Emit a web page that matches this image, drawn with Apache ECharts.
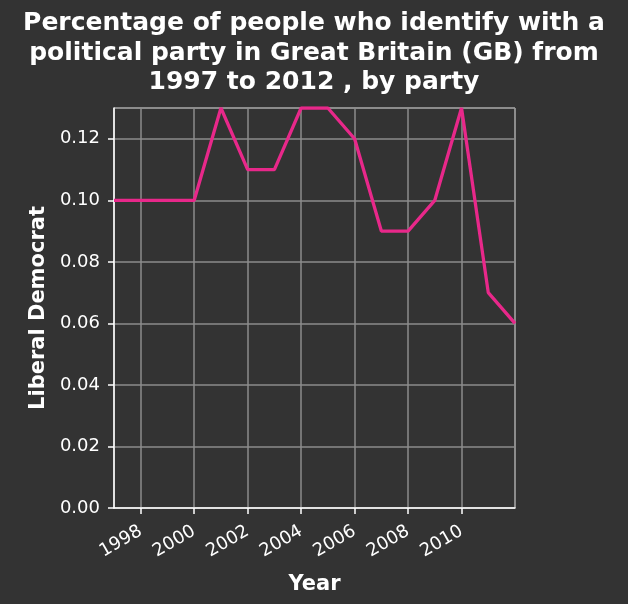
<!DOCTYPE html>
<html>
<head>
<meta charset="utf-8">
<script src="https://cdn.jsdelivr.net/npm/echarts@6/dist/echarts.min.js"></script>
<style>
  html, body { margin: 0; padding: 0; background: #333333; }
  #chart { width: 628px; height: 604px; }
</style>
</head>
<body>
<div id="chart"></div>
<script>
const years = ['1997', '1998', '1999', '2000', '2001', '2002', '2003', '2004',
  '2005', '2006', '2007', '2008', '2009', '2010', '2011', '2012']
const libDem = [0.10, 0.10, 0.10, 0.10, 0.13, 0.11, 0.11, 0.13,
  0.13, 0.12, 0.09, 0.09, 0.10, 0.13, 0.07, 0.06]

const font = 'DejaVu Sans'
// only even years get a label, tick and grid line (2012 sits on the frame)
const evenYear = (index, value) => Number(value) % 2 === 0 && value !== '2012'

const myChart = echarts.init(document.getElementById('chart'))
const option = {
  backgroundColor: '#333333',
  animation: false,
  title: {
    text: 'Percentage of people who identify with a\npolitical party in Great Britain (GB) from\n1997 to 2012 , by party',
    left: 'center',
    top: 4,
    textStyle: {
      color: '#ffffff',
      fontFamily: font,
      fontWeight: 'bold',
      fontSize: 25,
      lineHeight: 29.5,
    },
  },
  grid: {
    left: 114,
    right: 113,
    top: 108,
    bottom: 96,
    show: true,
    borderColor: '#e6e6e6',
    borderWidth: 1,
  },
  xAxis: {
    type: 'category',
    data: years,
    boundaryGap: false,
    name: 'Year',
    nameLocation: 'middle',
    nameGap: 66,
    nameTextStyle: { color: '#ffffff', fontFamily: font, fontWeight: 'bold', fontSize: 21 },
    axisLine: { lineStyle: { color: '#ffffff', width: 1.5 } },
    axisTick: { show: true, interval: evenYear, length: 6, lineStyle: { color: '#ffffff', width: 1.5 } },
    axisLabel: { interval: evenYear, rotate: 30, margin: 22, color: '#ffffff', fontFamily: font, fontSize: 18 },
    splitLine: { show: true, interval: evenYear, lineStyle: { color: '#8c8c8c', width: 1.5 } },
  },
  yAxis: {
    type: 'value',
    min: 0,
    max: 0.13,
    interval: 0.02,
    name: 'Liberal Democrat',
    nameLocation: 'middle',
    nameGap: 62,
    nameTextStyle: { color: '#ffffff', fontFamily: font, fontWeight: 'bold', fontSize: 21 },
    axisLine: { show: true, lineStyle: { color: '#ffffff', width: 1.5 } },
    axisTick: { show: true, length: 6, lineStyle: { color: '#ffffff', width: 1.5 } },
    axisLabel: {
      color: '#ffffff',
      fontFamily: font,
      fontSize: 18,
      margin: 14,
      showMaxLabel: false,
      formatter: (v) => v.toFixed(2),
    },
    splitLine: { show: true, lineStyle: { color: '#8c8c8c', width: 1.5 } },
  },
  series: [
    {
      name: 'Liberal Democrat',
      type: 'line',
      data: libDem,
      symbol: 'none',
      lineStyle: { color: '#e8288a', width: 3.3 },
    },
  ],
}
myChart.setOption(option)
</script>
</body>
</html>
